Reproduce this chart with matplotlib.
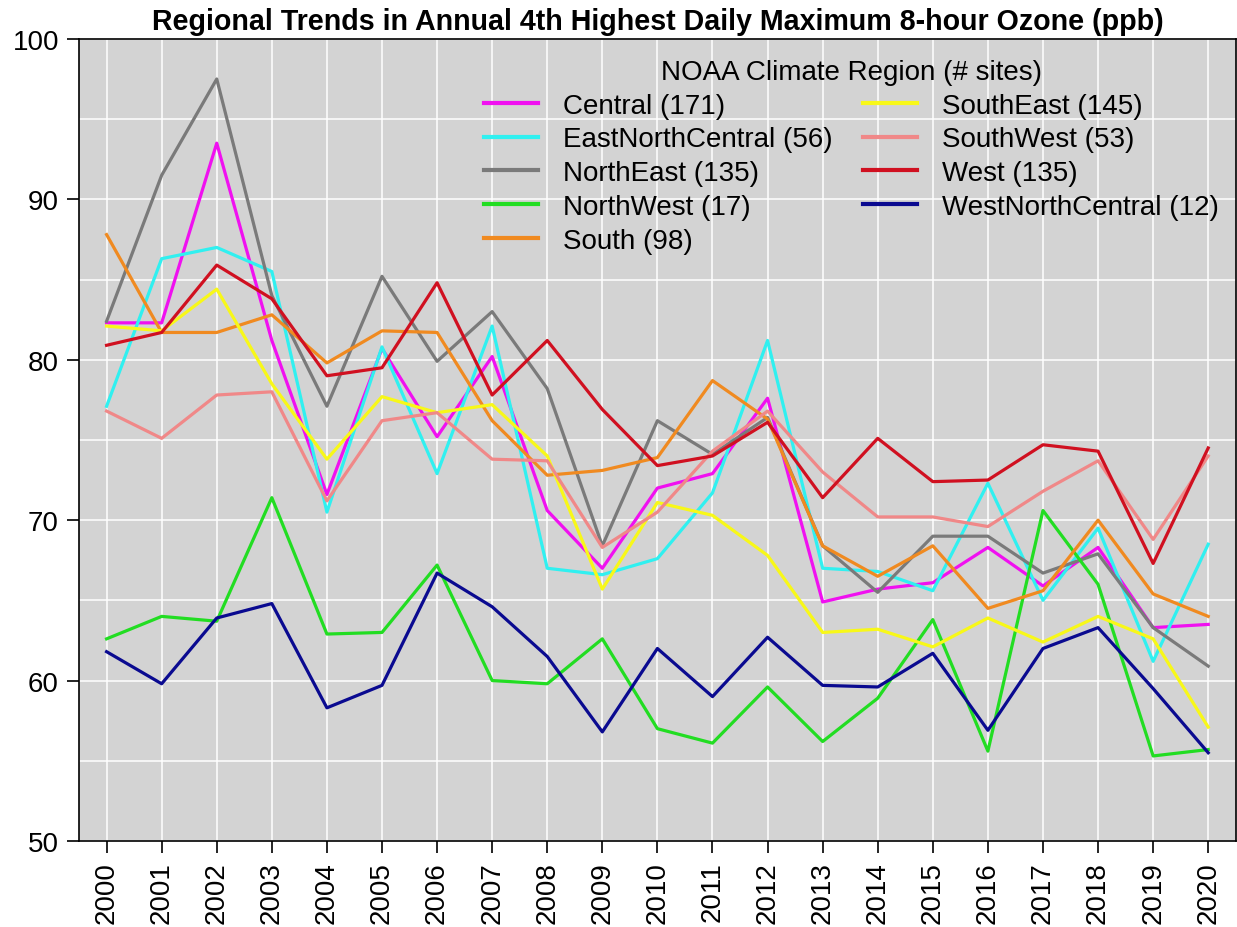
"""Regional trends in annual 4th highest daily max 8-hour ozone, by NOAA climate region."""

import matplotlib
matplotlib.use("Agg")
import matplotlib.pyplot as plt
from matplotlib.ticker import MultipleLocator

plt.rcParams['font.family'] = ['Liberation Sans', 'DejaVu Sans']

years = list(range(2000, 2021))

central = [82.3, 82.3, 93.5, 81.2, 71.6, 80.7, 75.2, 80.2, 70.6, 67.0, 72.0,
           72.9, 77.6, 64.9, 65.7, 66.1, 68.3, 65.9, 68.3, 63.3, 63.5]
east_north_central = [77.1, 86.3, 87.0, 85.5, 70.5, 80.8, 72.9, 82.1, 67.0, 66.6, 67.6,
                      71.7, 81.2, 67.0, 66.8, 65.6, 72.3, 65.0, 69.5, 61.2, 68.5]
north_east = [82.4, 91.5, 97.5, 84.0, 77.1, 85.2, 79.9, 83.0, 78.2, 68.4, 76.2,
              74.1, 76.4, 68.4, 65.5, 69.0, 69.0, 66.7, 67.9, 63.3, 60.9]
north_west = [62.6, 64.0, 63.7, 71.4, 62.9, 63.0, 67.2, 60.0, 59.8, 62.6, 57.0,
              56.1, 59.6, 56.2, 58.9, 63.8, 55.6, 70.6, 66.0, 55.3, 55.7]
south = [87.8, 81.7, 81.7, 82.8, 79.8, 81.8, 81.7, 76.2, 72.8, 73.1, 73.9,
         78.7, 76.3, 68.4, 66.5, 68.4, 64.5, 65.6, 70.0, 65.4, 64.0]
south_east = [82.1, 81.8, 84.4, 78.5, 73.8, 77.7, 76.7, 77.2, 74.0, 65.7, 71.1,
              70.3, 67.8, 63.0, 63.2, 62.1, 63.9, 62.4, 64.0, 62.6, 57.1]
south_west = [76.8, 75.1, 77.8, 78.0, 71.2, 76.2, 76.7, 73.8, 73.7, 68.3, 70.5,
              74.3, 76.8, 73.0, 70.2, 70.2, 69.6, 71.8, 73.7, 68.8, 74.0]
west = [80.9, 81.7, 85.9, 83.8, 79.0, 79.5, 84.8, 77.8, 81.2, 76.9, 73.4,
        74.0, 76.1, 71.4, 75.1, 72.4, 72.5, 74.7, 74.3, 67.3, 74.5]
west_north_central = [61.8, 59.8, 63.9, 64.8, 58.3, 59.7, 66.7, 64.6, 61.5, 56.8, 62.0,
                      59.0, 62.7, 59.7, 59.6, 61.7, 56.9, 62.0, 63.3, 59.5, 55.5]

regions = ["Central (171)", "EastNorthCentral (56)", "NorthEast (135)",
           "NorthWest (17)", "South (98)", "SouthEast (145)", "SouthWest (53)",
           "West (135)", "WestNorthCentral (12)"]
series = [central, east_north_central, north_east, north_west, south,
          south_east, south_west, west, west_north_central]
colors = ["#f010f0", "#30f0f0", "#7a7a7a", "#22dd22", "#f08a20",
          "#f8f818", "#f08888", "#d01020", "#0a0a90"]


def main():
    fig = plt.figure(figsize=(12.37, 9.28), dpi=100)
    ax = fig.add_axes([0.0639, 0.0927, 0.9351, 0.8643])
    ax.set_facecolor("#d3d3d3")

    for vals, label, col in zip(series, regions, colors):
        ax.plot(years, vals, color=col, linewidth=2.3, label=label, zorder=3)

    ax.set_xlim(1999.5, 2020.5)
    ax.set_ylim(50, 100)
    ax.set_xticks(years)
    ax.set_xticklabels([str(y) for y in years], rotation=90)
    ax.yaxis.set_major_locator(MultipleLocator(10))
    ax.yaxis.set_minor_locator(MultipleLocator(5))
    ax.grid(True, which="both", axis="y", color="white", linewidth=1.1, zorder=1)
    ax.grid(True, which="major", axis="x", color="white", linewidth=1.1, zorder=1)
    ax.tick_params(axis="both", which="major", labelsize=20, length=8.5,
                   width=1.2, pad=6, direction="out")
    ax.tick_params(axis="y", which="minor", length=0)
    for s in ax.spines.values():
        s.set_linewidth(1.2)
        s.set_color("black")

    ax.set_title("Regional Trends in Annual 4th Highest Daily Maximum 8-hour Ozone (ppb)",
                 fontsize=20.6, fontweight="bold", pad=7)

    leg = ax.legend(ncol=2, loc="upper right", bbox_to_anchor=(1.0, 0.996),
                    frameon=False, fontsize=20, title="NOAA Climate Region (# sites)",
                    title_fontsize=20, handlelength=1.95, handletextpad=0.9,
                    columnspacing=1.1, labelspacing=0.28, borderaxespad=0.2)
    for line in leg.get_lines():
        line.set_linewidth(3)

    fig.savefig("out.png", dpi=100)


if __name__ == "__main__":
    main()
